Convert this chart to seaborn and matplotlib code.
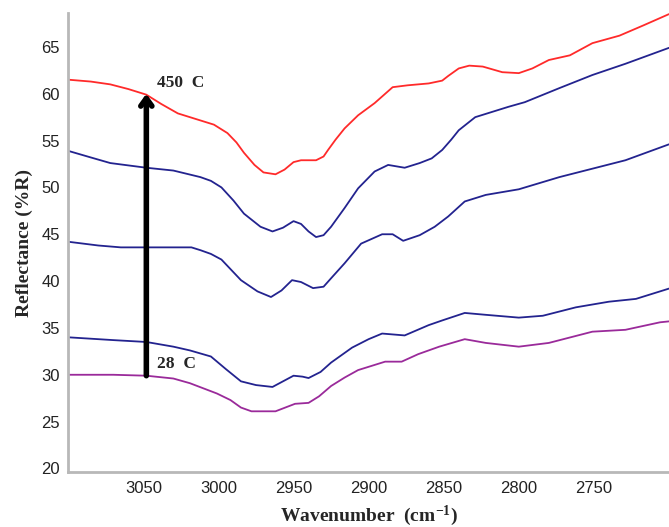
import numpy as np
import pandas as pd
import matplotlib
matplotlib.use("Agg")
import matplotlib.pyplot as plt
from matplotlib.ticker import MultipleLocator
import seaborn as sns

# ---- data ----
wn_red = [3100, 3085, 3072, 3060, 3048, 3038, 3027, 3015, 3003, 2994, 2988, 2983, 2976, 2970,
          2962, 2956, 2950, 2945, 2935, 2930, 2927, 2922, 2916, 2907, 2896, 2884, 2874, 2860,
          2851, 2847, 2840, 2833, 2824, 2811, 2800, 2791, 2780, 2766, 2751, 2733, 2717, 2700]
r_red = [61.5, 61.3, 61.0, 60.5, 59.9, 58.9, 57.9, 57.3, 56.7, 55.8, 54.8, 53.7, 52.4, 51.6,
         51.4, 51.9, 52.7, 52.9, 52.9, 53.3, 54.0, 55.1, 56.3, 57.7, 59.0, 60.7, 60.9, 61.1,
         61.4, 61.9, 62.7, 63.0, 62.9, 62.3, 62.2, 62.7, 63.6, 64.1, 65.4, 66.2, 67.3, 68.5]

wn_b1 = [3100, 3085, 3072, 3048, 3030, 3012, 3005, 2998, 2990, 2983, 2972, 2964, 2957, 2950,
         2945, 2940, 2935, 2930, 2925, 2916, 2907, 2896, 2887, 2876, 2866, 2858, 2851, 2845,
         2840, 2829, 2807, 2796, 2773, 2751, 2729, 2700]
r_b1 = [53.9, 53.2, 52.6, 52.1, 51.8, 51.1, 50.7, 50.0, 48.6, 47.2, 45.8, 45.3, 45.7, 46.4,
        46.1, 45.3, 44.7, 44.9, 45.8, 47.8, 49.9, 51.7, 52.4, 52.1, 52.6, 53.1, 54.0, 55.1,
        56.1, 57.5, 58.6, 59.1, 60.6, 62.0, 63.2, 64.9]

wn_b2 = [3100, 3080, 3065, 3048, 3030, 3018, 3012, 3005, 2998, 2985, 2974, 2965, 2958, 2951,
         2945, 2937, 2930, 2925, 2916, 2905, 2891, 2884, 2877, 2866, 2856, 2847, 2836, 2822,
         2800, 2773, 2751, 2729, 2700]
r_b2 = [44.2, 43.8, 43.6, 43.6, 43.6, 43.6, 43.3, 42.9, 42.3, 40.1, 38.9, 38.3, 39.0, 40.1,
        39.9, 39.25, 39.4, 40.3, 41.9, 44.0, 45.0, 45.0, 44.3, 44.9, 45.8, 46.9, 48.5, 49.2,
        49.8, 51.1, 52.0, 52.9, 54.6]

wn_b3 = [3100, 3070, 3048, 3030, 3019, 3005, 2995, 2985, 2975, 2964, 2957, 2950, 2944, 2940,
         2932, 2925, 2911, 2900, 2891, 2876, 2860, 2851, 2836, 2822, 2800, 2784, 2762, 2740,
         2722, 2700]
r_b3 = [34.0, 33.7, 33.5, 33.0, 32.6, 31.95, 30.6, 29.3, 28.9, 28.7, 29.3, 29.9, 29.8, 29.65,
        30.3, 31.3, 32.9, 33.8, 34.4, 34.2, 35.3, 35.8, 36.6, 36.4, 36.1, 36.3, 37.2, 37.8,
        38.1, 39.2]

wn_m = [3100, 3070, 3048, 3030, 3019, 3001, 2992, 2985, 2978, 2962, 2949, 2940, 2933, 2925,
        2916, 2907, 2889, 2878, 2867, 2853, 2836, 2822, 2800, 2780, 2751, 2729, 2706, 2700]
r_m = [30.0, 30.0, 29.9, 29.6, 29.1, 28.0, 27.3, 26.5, 26.1, 26.1, 26.9, 27.0, 27.7, 28.8,
       29.7, 30.5, 31.4, 31.4, 32.2, 33.0, 33.8, 33.4, 33.0, 33.4, 34.6, 34.8, 35.6, 35.7]

series_names = ["450 C", "b1", "b2", "b3", "28 C"]
colors = {"450 C": "#ff2a2a", "b1": "#23238f", "b2": "#23238f", "b3": "#23238f", "28 C": "#9a2a9a"}

frames = []
for name, wn, r in zip(series_names, [wn_red, wn_b1, wn_b2, wn_b3, wn_m],
                       [r_red, r_b1, r_b2, r_b3, r_m]):
    frames.append(pd.DataFrame({"wn": wn, "R": r, "s": name}))
df = pd.concat(frames, ignore_index=True)

sns.set_style("white")
plt.rcParams["mathtext.fontset"] = "custom"
plt.rcParams["mathtext.rm"] = "Liberation Serif:bold"
plt.rcParams["mathtext.it"] = "Liberation Serif:bold"
plt.rcParams["mathtext.bf"] = "Liberation Serif:bold"

fig = plt.figure(figsize=(6.69, 5.27), dpi=100)
ax = fig.add_axes([0.102, 0.104, 0.898, 0.871])

sns.lineplot(data=df, x="wn", y="R", hue="s", palette=colors, sort=False,
             estimator=None, linewidth=1.3, legend=False, ax=ax)

ax.set_xlim(3100, 2700)
ax.set_ylim(19.6, 68.6)
ax.set_xticks([3050, 3000, 2950, 2900, 2850, 2800, 2750])
ax.set_yticks([20, 25, 30, 35, 40, 45, 50, 55, 60, 65])
ax.xaxis.set_minor_locator(MultipleLocator(10))
ax.yaxis.set_minor_locator(MultipleLocator(1))

for side in ["top", "right"]:
    ax.spines[side].set_visible(False)
for side in ["left", "bottom"]:
    ax.spines[side].set_color("#b8b8b8")
    ax.spines[side].set_linewidth(2)

ax.tick_params(which="major", direction="inout", length=4, width=1, color="#333333",
               labelsize=12, labelcolor="#222222", pad=4)
ax.tick_params(which="minor", direction="inout", length=2, width=1, color="#333333")
for lab in ax.get_xticklabels() + ax.get_yticklabels():
    lab.set_family("Liberation Sans")

ax.set_xlabel(r"Wavenumber  (cm$^{-1}$)", family="Liberation Serif", fontweight="bold",
              fontsize=14, labelpad=6)
ax.set_ylabel("Reflectance (%R)", family="Liberation Serif", fontweight="bold",
              fontsize=14, labelpad=6)

ax.annotate("", xy=(3048, 60.0), xytext=(3048, 29.9),
            arrowprops=dict(arrowstyle="->,head_length=0.55,head_width=0.4", lw=4,
                            color="black", shrinkA=0, shrinkB=0))
ax.text(3041, 60.3, "450  C", family="Liberation Serif", fontweight="bold", fontsize=12.5,
        va="bottom", ha="left")
ax.text(3041, 30.3, "28  C", family="Liberation Serif", fontweight="bold", fontsize=12.5,
        va="bottom", ha="left")

fig.savefig("out.png", dpi=100)
